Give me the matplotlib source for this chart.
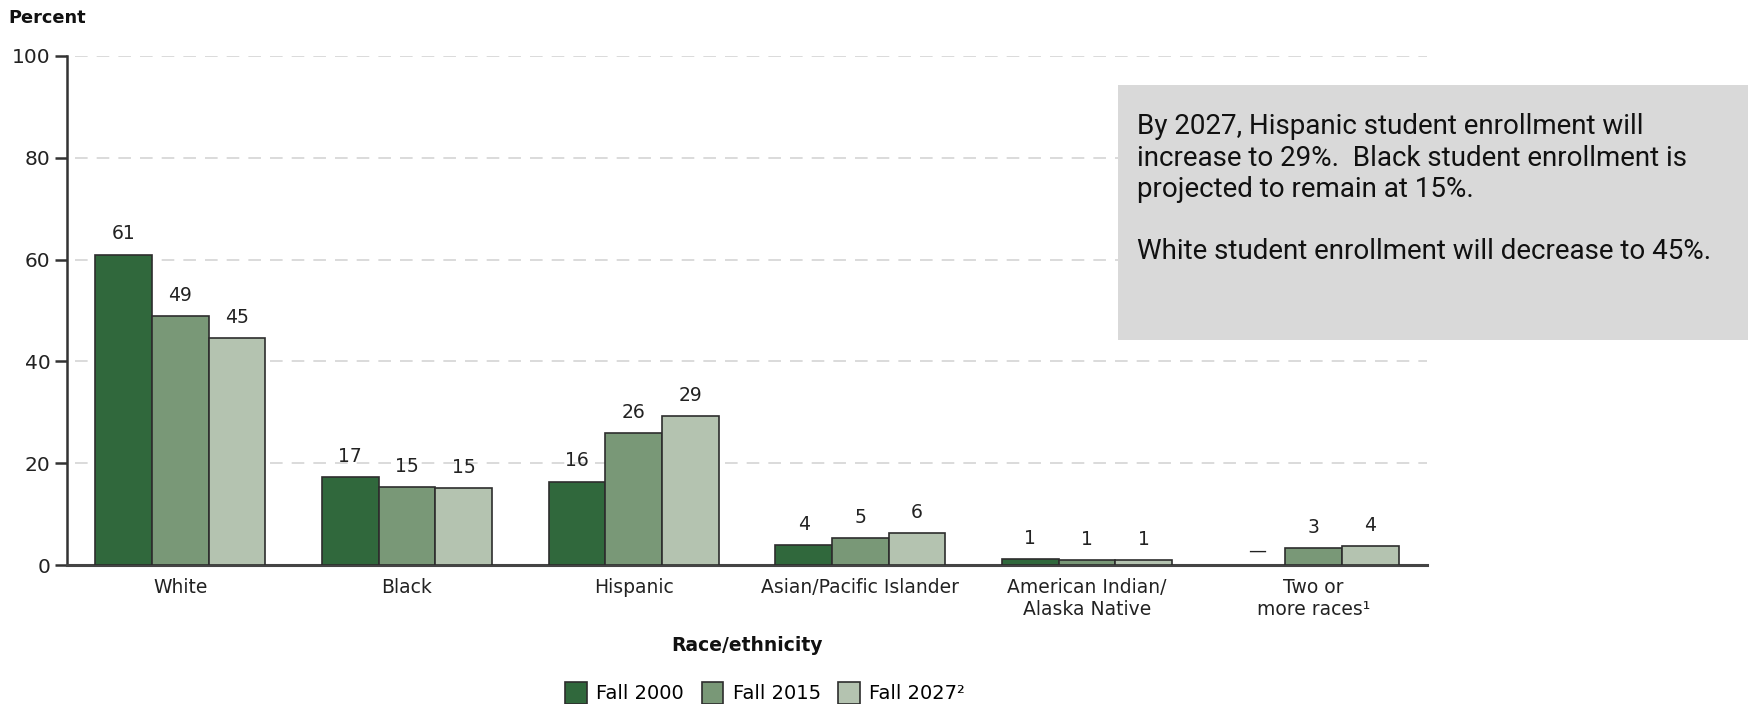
import numpy as np
import matplotlib.pyplot as plt
from matplotlib.patches import Rectangle, Patch

plt.rcParams['font.family'] = ['DejaVu Sans']

categories = ['White', 'Black', 'Hispanic', 'Asian/Pacific Islander',
              'American Indian/\nAlaska Native', 'Two or\nmore races\u00b9']
series_names = ['Fall 2000', 'Fall 2015', 'Fall 2027\u00b2']
fall2000 = [61.0, 17.2, 16.4, 4.0, 1.1, np.nan]
fall2015 = [48.9, 15.4, 26.0, 5.3, 0.9, 3.4]
fall2027 = [44.6, 15.1, 29.2, 6.2, 0.9, 3.7]
yticks = [0, 20, 40, 60, 80, 100]

colors = ['#30683c', '#799877', '#b4c3b0']
edge = '#2d2d2d'

fig = plt.figure(figsize=(17.48, 7.04), dpi=100)
ax = fig.add_axes([0.0383, 0.1974, 0.7781, 0.7231])

x = np.arange(len(categories))
w = 0.25
for i, (vals, c) in enumerate(zip([fall2000, fall2015, fall2027], colors)):
    xs = x + (i - 1) * w
    ax.bar(xs, vals, width=w, color=c, edgecolor=edge, linewidth=1.2, zorder=3)
    for xx, v in zip(xs, vals):
        if np.isnan(v):
            # no data for this year
            ax.annotate('\u2014', (xx, 0), xytext=(0, 4), textcoords='offset points',
                        ha='center', va='bottom', fontsize=13, color='#222222')
        else:
            ax.annotate(f'{round(v)}', (xx, v), xytext=(0, 8), textcoords='offset points',
                        ha='center', va='bottom', fontsize=13.5, color='#222222')

ax.set_xlim(-0.5, 5.5)
ax.set_ylim(0, 100)
ax.set_yticks(yticks)
ax.set_xticks(x)
ax.set_xticklabels(categories, fontsize=13.5, color='#222222', linespacing=1.2)
ax.tick_params(axis='x', length=0, pad=9)
ax.tick_params(axis='y', length=9, width=1.8, color='#333333', labelsize=14.5,
               labelcolor='#222222', pad=3)
for yv in yticks[1:]:
    ax.axhline(yv, xmin=0.006, color='#d8d8d8', linewidth=1.3,
               linestyle=(0, (7, 5)), zorder=1)
ax.spines['top'].set_visible(False)
ax.spines['right'].set_visible(False)
ax.spines['left'].set_linewidth(1.8)
ax.spines['left'].set_color('#333333')
ax.spines['bottom'].set_linewidth(2.2)
ax.spines['bottom'].set_color('#444444')

fig.text(0.005, 0.975, 'Percent', fontsize=12.8, fontweight='bold', color='#111111',
         ha='left', va='center')
fig.text(0.4274, 0.083, 'Race/ethnicity', fontsize=13.5, fontweight='bold',
         color='#111111', ha='center', va='center')

handles = [Patch(facecolor=c, edgecolor=edge, linewidth=1.2) for c in colors]
fig.legend(handles, series_names, loc='center', bbox_to_anchor=(0.4378, 0.016),
           ncol=3, frameon=False, fontsize=14, handlelength=1.1, handleheight=1.4,
           handletextpad=0.5, columnspacing=0.9)

# callout box
fig.patches.append(Rectangle((0.6396, 0.517), 0.3604, 0.362, transform=fig.transFigure,
                             facecolor='#d9d9d9', edgecolor='none', zorder=5))
fig.text(0.6505, 0.839,
         'By 2027, Hispanic student enrollment will\n'
         'increase to 29%.  Black student enrollment is\n'
         'projected to remain at 15%.\n\n'
         'White student enrollment will decrease to 45%.',
         family='Roboto', fontsize=20, color='#111111', ha='left', va='top',
         linespacing=1.2, zorder=6)

fig.savefig('out.png', dpi=100)
